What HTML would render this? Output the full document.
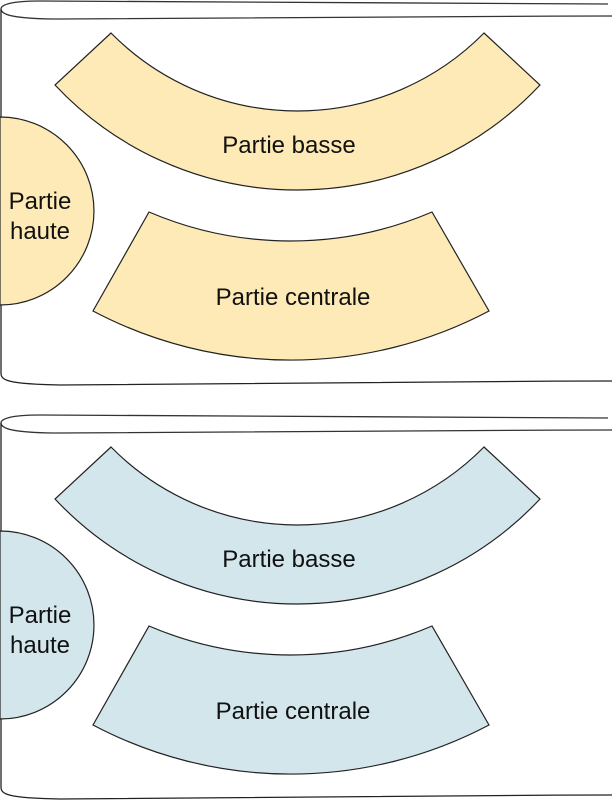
<!DOCTYPE html>
<html><head><meta charset="utf-8"><style>
html,body{margin:0;padding:0;background:#fff;width:612px;height:800px;overflow:hidden}
svg{display:block}
text{font-family:"Liberation Sans",sans-serif;font-size:24px;fill:#111}
</style></head><body>
<svg width="612" height="800" viewBox="0 0 612 800" xmlns="http://www.w3.org/2000/svg">
<defs>
<g id="roll">
  <path d="M608,4 C400,3 200,1 40,1 C10,1 1,5 1,9 C1,14 10,19 60,19 C300,19 450,16 612,16" fill="none" stroke="#333" stroke-width="1.3"/>
  <path d="M1,9 L1,373 C1,380 6,384 60,385 C300,385 450,381 612,381" fill="none" stroke="#222" stroke-width="1.3"/>
</g>
<g id="pieces">
  <path d="M111,33 A262,262 0 0 0 484,33 L540,85 A332.5,332.5 0 0 1 55,85 Z" stroke="#222" stroke-width="1.2"/>
  <path d="M149,212 A360,360 0 0 0 432,212 L489,311 A424,424 0 0 1 93,311 Z" stroke="#222" stroke-width="1.2"/>
  <path d="M0,117 A94,94 0 0 1 0,305 Z" stroke="#222" stroke-width="1.2"/>
</g>
</defs>
<use href="#roll"/>
<g fill="#fdeab6"><use href="#pieces"/></g>
<text x="289" y="153" text-anchor="middle">Partie basse</text>
<text x="293" y="305" text-anchor="middle">Partie centrale</text>
<text x="40" y="209" text-anchor="middle">Partie</text>
<text x="40" y="239" text-anchor="middle">haute</text>

<g transform="translate(0,414)">
  <use href="#roll"/>
  <g fill="#d2e6ec"><use href="#pieces"/></g>
  <text x="289" y="153" text-anchor="middle">Partie basse</text>
  <text x="293" y="305" text-anchor="middle">Partie centrale</text>
  <text x="40" y="209" text-anchor="middle">Partie</text>
  <text x="40" y="239" text-anchor="middle">haute</text>
</g>
</svg>
</body></html>
